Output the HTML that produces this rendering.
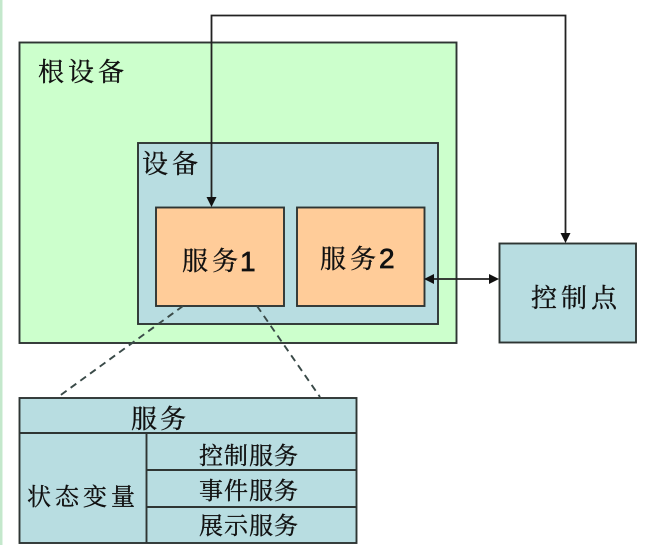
<!DOCTYPE html>
<html lang="zh-CN"><head><meta charset="utf-8">
<style>
html,body{margin:0;padding:0;background:#fff;width:661px;height:545px;overflow:hidden}
svg{display:block;filter:blur(0.35px)}
text{font-family:"Noto Serif CJK SC","Liberation Serif",serif;fill:#111;stroke:#111;stroke-width:0.35px}
.l{font-family:"Liberation Sans",sans-serif;fill:#111;stroke:#111;stroke-width:0.7px}
</style></head><body>
<svg width="661" height="545" viewBox="0 0 661 545" xmlns="http://www.w3.org/2000/svg">
<rect x="0" y="0" width="2.500" height="545" fill="#c4e8cc"/>
<g stroke="#2e3533" stroke-width="1.900">
<rect x="19.500" y="42.500" width="437" height="300.500" fill="#ccffcc"/>
<rect x="138" y="143" width="300" height="181" fill="#b8dde1"/>
<rect x="156" y="207.500" width="128" height="98.500" fill="#ffcc99"/>
<rect x="297" y="207.500" width="127.500" height="98.500" fill="#ffcc99"/>
<rect x="499.500" y="243.500" width="136.500" height="99" fill="#b8dde1"/>
<rect x="19.500" y="398" width="337" height="145" fill="#b8dde1"/>
<path d="M19.500 433H356.500M146.500 433V543M146.500 470H356.500M146.500 507H356.500" fill="none"/>
</g>
<path d="M211.500 200V15.500H565.500V236M430 279H492" fill="none" stroke="#222" stroke-width="1.800"/>
<g fill="#111">
<path d="M206.500 197H216.500L211.500 207Z"/>
<path d="M560.500 233H570.500L565.500 243Z"/>
<path d="M424 279L434 274V284Z"/>
<path d="M499 279L489 274V284Z"/>
</g>
<path d="M183 306L58 397M257 306L320 397" fill="none" stroke="#3a4a48" stroke-width="1.900" stroke-dasharray="7 5"/>
<g font-size="26">
<text x="38" y="81" letter-spacing="4">根设备</text>
<text x="142" y="173" letter-spacing="4">设备</text>
<text x="182" y="270" letter-spacing="4">服务</text>
<text x="320" y="268" letter-spacing="4">服务</text>
<text x="531" y="307" letter-spacing="4">控制点</text>
<text x="131" y="428" letter-spacing="3">服务</text>
</g>
<text class="l" x="240" y="271" font-size="28">1</text>
<text class="l" x="379" y="268" font-size="28">2</text>
<g font-size="24">
<text x="199" y="464" letter-spacing="1">控制服务</text>
<text x="199" y="499" letter-spacing="1">事件服务</text>
<text x="199" y="534" letter-spacing="1">展示服务</text>
<text x="27" y="505" letter-spacing="4">状态变量</text>
</g>
</svg>
</body></html>
